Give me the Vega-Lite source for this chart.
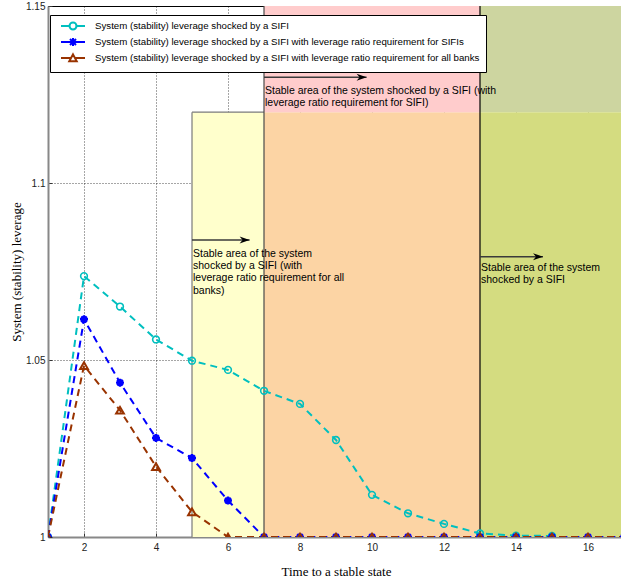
{
  "$schema": "https://vega.github.io/schema/vega-lite/v6.json",
  "width": 576,
  "height": 531,
  "autosize": "none",
  "padding": {"left": 48, "top": 6, "right": 0, "bottom": 46},
  "background": "white",
  "datasets": {
    "series": [
      {"x": 1, "y": 1.0, "s": "A"}, {"x": 2, "y": 1.0737, "s": "A"}, {"x": 3, "y": 1.0651, "s": "A"},
      {"x": 4, "y": 1.0558, "s": "A"}, {"x": 5, "y": 1.0498, "s": "A"}, {"x": 6, "y": 1.0472, "s": "A"},
      {"x": 7, "y": 1.0413, "s": "A"}, {"x": 8, "y": 1.0376, "s": "A"}, {"x": 9, "y": 1.0274, "s": "A"},
      {"x": 10, "y": 1.0119, "s": "A"}, {"x": 11, "y": 1.0067, "s": "A"}, {"x": 12, "y": 1.0037, "s": "A"},
      {"x": 13, "y": 1.0010, "s": "A"}, {"x": 14, "y": 1.0004, "s": "A"}, {"x": 15, "y": 1.0003, "s": "A"},
      {"x": 1, "y": 1.0, "s": "B"}, {"x": 2, "y": 1.0615, "s": "B"}, {"x": 3, "y": 1.0436, "s": "B"},
      {"x": 4, "y": 1.0280, "s": "B"}, {"x": 5, "y": 1.0223, "s": "B"}, {"x": 6, "y": 1.0103, "s": "B"},
      {"x": 7, "y": 1.0, "s": "B"}, {"x": 8, "y": 1.0, "s": "B"}, {"x": 9, "y": 1.0, "s": "B"},
      {"x": 10, "y": 1.0, "s": "B"}, {"x": 11, "y": 1.0, "s": "B"}, {"x": 12, "y": 1.0, "s": "B"},
      {"x": 13, "y": 1.0, "s": "B"}, {"x": 14, "y": 1.0, "s": "B"}, {"x": 15, "y": 1.0, "s": "B"},
      {"x": 16, "y": 1.0, "s": "B"}, {"x": 17, "y": 1.0, "s": "B"},
      {"x": 1, "y": 1.0, "s": "C"}, {"x": 2, "y": 1.0484, "s": "C"}, {"x": 3, "y": 1.0358, "s": "C"},
      {"x": 4, "y": 1.0199, "s": "C"}, {"x": 5, "y": 1.0071, "s": "C"}, {"x": 6, "y": 1.0, "s": "C"},
      {"x": 7, "y": 1.0, "s": "C"}, {"x": 8, "y": 1.0, "s": "C"}, {"x": 9, "y": 1.0, "s": "C"},
      {"x": 10, "y": 1.0, "s": "C"}, {"x": 11, "y": 1.0, "s": "C"}, {"x": 12, "y": 1.0, "s": "C"},
      {"x": 13, "y": 1.0, "s": "C"}, {"x": 14, "y": 1.0, "s": "C"}, {"x": 15, "y": 1.0, "s": "C"},
      {"x": 16, "y": 1.0, "s": "C"}, {"x": 17, "y": 1.0, "s": "C"}
    ],
    "zones": [
      {"x": 5, "x2": 7, "y": 1, "y2": 1.12, "zone": "banks"},
      {"x": 7, "x2": 13, "y": 1, "y2": 1.12, "zone": "overlap"},
      {"x": 7, "x2": 13, "y": 1.12, "y2": 1.15, "zone": "sifi"},
      {"x": 13, "x2": 17, "y": 1.12, "y2": 1.15, "zone": "shockedtop"},
      {"x": 13, "x2": 17, "y": 1, "y2": 1.12, "zone": "shocked"}
    ],
    "edges": [
      {"x": 5, "x2": 5, "y": 1, "y2": 1.12, "edge": "a"},
      {"x": 5, "x2": 7, "y": 1.12, "y2": 1.12, "edge": "a"},
      {"x": 7, "x2": 7, "y": 1, "y2": 1.15, "edge": "b"},
      {"x": 13, "x2": 13, "y": 1, "y2": 1.15, "edge": "c"}
    ],
    "notes": [
      {"x": 5, "x2": 6.6, "ya": 1.0839, "y": 1.0814, "t": ["Stable area of the system", "shocked by a SIFI (with", "leverage ratio requirement for all", "banks)"]},
      {"x": 7, "x2": 9.85, "ya": 1.1299, "y": 1.1274, "t": ["Stable area of the system shocked by a SIFI (with", "leverage ratio requirement for SIFI)"]},
      {"x": 13, "x2": 14.75, "ya": 1.0792, "y": 1.0774, "t": ["Stable area of the system", "shocked by a SIFI"]}
    ]
  },
  "resolve": {"scale": {"color": "independent", "fill": "independent", "stroke": "independent", "shape": "independent"}},
  "layer": [
    {
      "data": {"name": "zones"},
      "mark": {"type": "rect"},
      "encoding": {
        "x": {"field": "x", "type": "quantitative", "scale": {"domain": [1, 17], "nice": false, "zero": false},
              "axis": {"values": [2, 4, 6, 8, 10, 12, 14, 16], "format": "d", "title": "Time to a stable state", "titlePadding": 13, "labelPadding": 9}},
        "x2": {"field": "x2"},
        "y": {"field": "y", "type": "quantitative", "scale": {"domain": [1, 1.15], "nice": false, "zero": false},
              "axis": {"values": [1, 1.05, 1.1, 1.15], "format": "~g", "title": "System (stability) leverage", "titlePadding": 2, "labelPadding": 7}},
        "y2": {"field": "y2"},
        "fill": {"field": "zone", "type": "nominal", "legend": null,
                 "scale": {"domain": ["banks", "overlap", "sifi", "shockedtop", "shocked"],
                           "range": ["#FFFFCC", "#FCD4A4", "#FFCCCC", "#CDD5A0", "#D4DC80"]}}
      }
    },
    {
      "data": {"name": "edges"},
      "mark": {"type": "rule", "strokeWidth": 1.2},
      "encoding": {
        "x": {"field": "x", "type": "quantitative"},
        "x2": {"field": "x2"},
        "y": {"field": "y", "type": "quantitative"},
        "y2": {"field": "y2"},
        "color": {"field": "edge", "type": "nominal", "legend": null,
                  "scale": {"domain": ["a", "b", "c"], "range": ["#7a7a7a", "#4a4a4a", "#000000"]}}
      }
    },
    {
      "data": {"name": "notes"},
      "mark": {"type": "rule", "color": "#3a3a3a", "strokeWidth": 1.5},
      "encoding": {
        "x": {"field": "x", "type": "quantitative"},
        "x2": {"field": "x2"},
        "y": {"field": "ya", "type": "quantitative"}
      }
    },
    {
      "data": {"name": "notes"},
      "mark": {"type": "point", "shape": "M0,0L-2,-0.7L-1.4,0L-2,0.7Z", "filled": true, "color": "#000", "size": 100, "opacity": 1},
      "encoding": {
        "x": {"field": "x2", "type": "quantitative"},
        "y": {"field": "ya", "type": "quantitative"}
      }
    },
    {
      "data": {"name": "notes"},
      "mark": {"type": "text", "align": "left", "baseline": "top", "font": "Liberation Sans", "fontSize": 10.5, "lineHeight": 12.3, "color": "#000", "dx": 1},
      "encoding": {
        "x": {"field": "x", "type": "quantitative"},
        "y": {"field": "y", "type": "quantitative"},
        "text": {"field": "t"}
      }
    },
    {
      "data": {"name": "series"},
      "mark": {"type": "line", "strokeWidth": 2, "strokeDash": [7, 5], "clip": true},
      "encoding": {
        "x": {"field": "x", "type": "quantitative"},
        "y": {"field": "y", "type": "quantitative"},
        "color": {"field": "s", "type": "nominal", "legend": null,
                  "scale": {"domain": ["A", "B", "C"], "range": ["#00BFBF", "#0000FF", "#993300"]}}
      }
    },
    {
      "data": {"name": "series"},
      "transform": [{"filter": {"field": "s", "equal": "A"}}],
      "mark": {"type": "point", "shape": "circle", "filled": false, "color": "#00BFBF", "size": 45, "strokeWidth": 1.6, "opacity": 1, "clip": true},
      "encoding": {
        "x": {"field": "x", "type": "quantitative"},
        "y": {"field": "y", "type": "quantitative"}
      }
    },
    {
      "data": {"name": "series"},
      "transform": [{"filter": {"field": "s", "equal": "B"}}],
      "mark": {"type": "point", "shape": "M-1,0H1M0,-1V1M-0.7,-0.7L0.7,0.7M-0.7,0.7L0.7,-0.7", "filled": false, "color": "#0000FF", "size": 64, "strokeWidth": 2.4, "opacity": 1, "clip": true},
      "encoding": {
        "x": {"field": "x", "type": "quantitative"},
        "y": {"field": "y", "type": "quantitative"}
      }
    },
    {
      "data": {"name": "series"},
      "transform": [{"filter": {"field": "s", "equal": "C"}}],
      "mark": {"type": "point", "shape": "triangle-up", "filled": false, "color": "#993300", "size": 60, "strokeWidth": 2, "opacity": 1, "clip": true},
      "encoding": {
        "x": {"field": "x", "type": "quantitative"},
        "y": {"field": "y", "type": "quantitative"}
      }
    },
    {
      "data": {"name": "series"},
      "transform": [{"filter": "datum.x > 1000"}],
      "mark": {"type": "point", "filled": false, "size": 64, "strokeWidth": 2, "opacity": 1},
      "encoding": {
        "shape": {"field": "s", "type": "nominal",
                  "scale": {"domain": ["A", "B", "C"],
                            "range": ["M-3,0H-0.87M0.87,0H3M-0.87,0A0.87,0.87,0,1,0,0.87,0A0.87,0.87,0,1,0,-0.87,0",
                                      "M-3,0H3M0,-1V1M-0.75,-0.75L0.75,0.75M-0.75,0.75L0.75,-0.75",
                                      "M-3,0H-0.48M0.48,0H3M0,-0.9L0.93,0.83L-0.93,0.83Z"]},
                  "legend": {"title": null, "orient": "none", "legendX": 2, "legendY": 9, "strokeColor": "#000", "fillColor": "#fff",
                             "padding": 6, "labelFont": "Liberation Sans", "labelFontSize": 9.7, "labelColor": "#000", "labelLimit": 500,
                             "symbolSize": 64, "symbolStrokeWidth": 2, "symbolOffset": 12, "labelOffset": 17, "rowPadding": 0,
                             "symbolFillColor": "#fff",
                             "labelExpr": "datum.label == 'A' ? 'System (stability) leverage shocked by a SIFI' : datum.label == 'B' ? 'System (stability) leverage shocked by a SIFI with leverage ratio requirement for SIFIs' : 'System (stability) leverage shocked by a SIFI with leverage ratio requirement for all banks'"}},
        "stroke": {"field": "s", "type": "nominal",
                   "scale": {"domain": ["A", "B", "C"], "range": ["#00BFBF", "#0000FF", "#993300"]},
                   "legend": {"title": null, "orient": "none", "legendX": 2, "legendY": 9, "strokeColor": "#000", "fillColor": "#fff",
                             "padding": 6, "labelFont": "Liberation Sans", "labelFontSize": 9.7, "labelColor": "#000", "labelLimit": 500,
                             "symbolSize": 64, "symbolStrokeWidth": 2, "symbolOffset": 12, "labelOffset": 17, "rowPadding": 0,
                             "symbolFillColor": "#fff",
                             "labelExpr": "datum.label == 'A' ? 'System (stability) leverage shocked by a SIFI' : datum.label == 'B' ? 'System (stability) leverage shocked by a SIFI with leverage ratio requirement for SIFIs' : 'System (stability) leverage shocked by a SIFI with leverage ratio requirement for all banks'"}}
      }
    }
  ],
  "config": {
    "view": {"stroke": "#000", "strokeWidth": 1},
    "axis": {
      "labelFont": "Liberation Sans", "labelFontSize": 10, "labelColor": "#222",
      "titleFont": "Liberation Serif", "titleFontSize": 13, "titleFontWeight": "normal", "titleColor": "#000",
      "grid": true, "gridDash": [1, 2], "gridColor": "#000", "gridOpacity": 0.7,
      "domainColor": "#888", "domainWidth": 2, "tickColor": "#333", "tickSize": -4, "zindex": 1
    }
  }
}
